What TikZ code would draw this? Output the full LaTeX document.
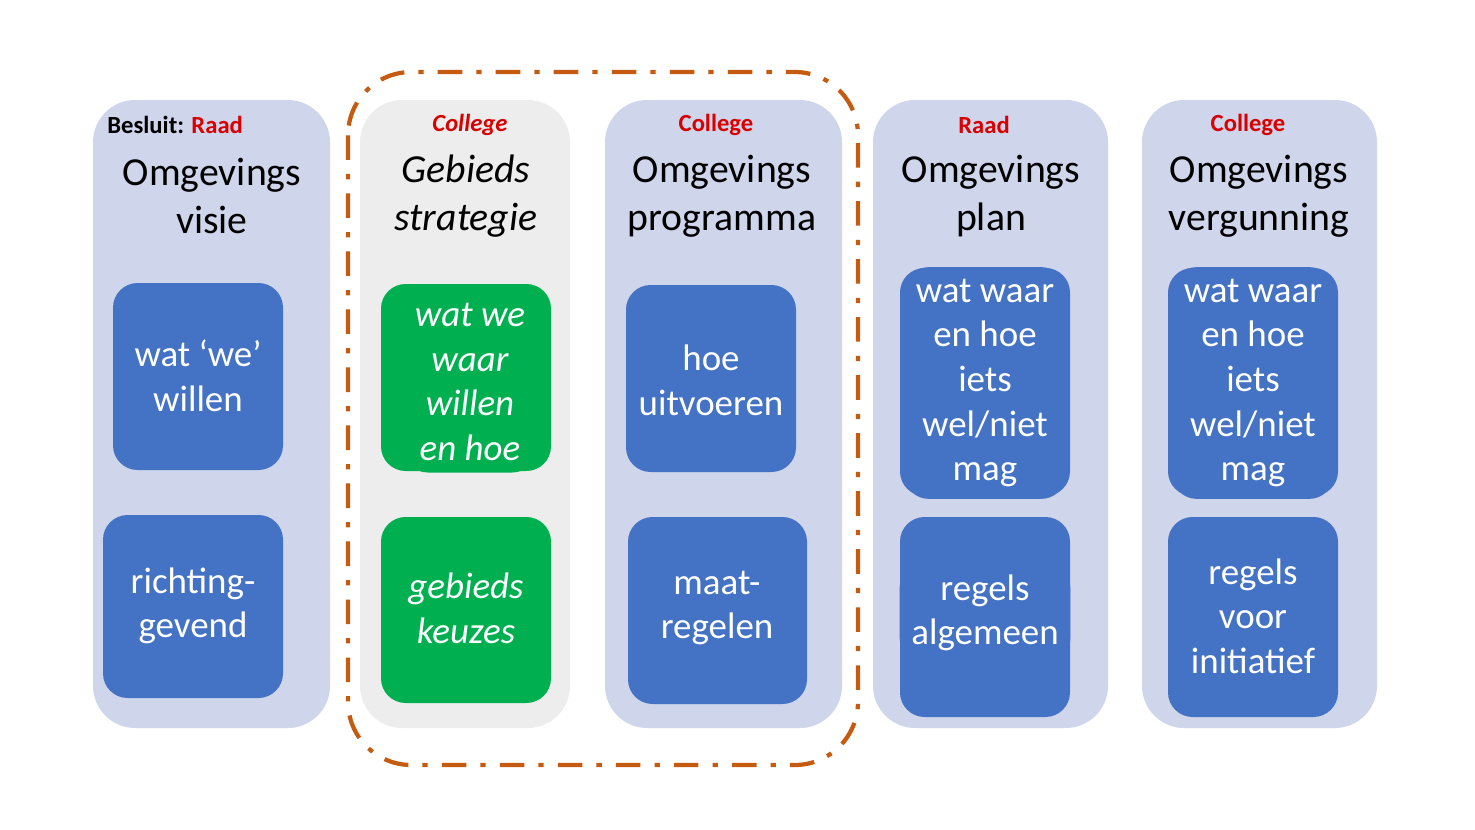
\documentclass[tikz,border=0pt]{standalone}
\usepackage{fontspec}
\setmainfont{Carlito}
\begin{document}
\begin{tikzpicture}[x=0.01cm,y=-0.01cm,
 col/.style={fill=lav,draw=none,rounded corners=12pt},
 blue/.style={fill=bl,draw=none,rounded corners=7pt,text=white,align=center,font=\fontsize{10.5}{12.7}\selectfont},
 green/.style={blue,fill=gr,font=\fontsize{10.5}{12.7}\selectfont\itshape},
 hdr/.style={text=red!85!black,font=\fontsize{7}{8}\selectfont\bfseries},
 ttl/.style={align=center,font=\fontsize{11.3}{13.6}\selectfont}]
\definecolor{lav}{HTML}{CFD5EA}\definecolor{gry}{HTML}{EDEDED}
\definecolor{bl}{HTML}{4472C4}\definecolor{gr}{HTML}{00B050}\definecolor{org}{HTML}{C55A11}
\useasboundingbox (0,0) rectangle (1475,830);
% columns
\fill[lav,rounded corners=12pt] (93,100) rectangle (330,728);
\fill[gry,rounded corners=12pt] (360,100) rectangle (570,728);
\fill[lav,rounded corners=12pt] (605,100) rectangle (842,728);
\fill[lav,rounded corners=12pt] (873,100) rectangle (1108,728);
\fill[lav,rounded corners=12pt] (1142,100) rectangle (1377,728);
% dashed group
\draw[org,line width=1.2pt,rounded corners=18pt,dash pattern=on 7pt off 4pt on 1.5pt off 4pt] (348,72) rectangle (858,765);
% headers
\node[anchor=west,font=\fontsize{7}{8}\selectfont\bfseries] (h1) at (95,125) {Besluit: \textcolor{red!85!black}{Raad}};
\node[hdr,font=\fontsize{7}{8}\selectfont\bfseries\itshape] (h2) at (470,125) {College};
\node[hdr] (h3) at (716,125) {College};
\node[hdr] (h4) at (984,125) {Raad};
\node[hdr] (h5) at (1248,125) {College};
% titles
\node[ttl] (t1) at (212,196) {Omgevings\\visie};
\node[ttl,font=\fontsize{11.3}{13.6}\selectfont\itshape] (t2) at (466,196) {Gebieds\\strategie};
\node[ttl] (t3) at (722,196) {Omgevings\\programma};
\node[ttl] (t4) at (991,196) {Omgevings\\plan};
\node[ttl] (t5) at (1259,196) {Omgevings\\vergunning};
% boxes
\fill[bl,rounded corners=7pt] (113,283) rectangle (283,470); \node[blue] (b1) at (198,376) {wat ‘we’\\willen};
\fill[bl,rounded corners=7pt] (103,515) rectangle (283,698); \node[blue] (b2) at (193,606) {richting-\\gevend};
\fill[gr,rounded corners=7pt] (381,284) rectangle (551,471); \node[green] (g1) at (470,382) {wat we\\waar\\willen\\en hoe};
\fill[gr,rounded corners=7pt] (381,517) rectangle (551,703); \node[green] (g2) at (466,608) {gebieds\\keuzes};
\fill[bl,rounded corners=7pt] (626,285) rectangle (796,472); \node[blue] (b3) at (711,380) {hoe\\uitvoeren};
\fill[bl,rounded corners=7pt] (628,517) rectangle (807,704); \node[blue] (b4) at (717,608) {maat-\\regelen};
\fill[bl,rounded corners=7pt] (900,268) rectangle (1070,496); \node[blue] (b5) at (985,383) {wat waar\\en hoe\\iets\\wel/niet\\mag};
\fill[bl,rounded corners=7pt] (900,517) rectangle (1070,717); \node[blue] (b6) at (985,613) {regels\\algemeen};
\fill[bl,rounded corners=7pt] (1168,268) rectangle (1338,496); \node[blue] (b7) at (1253,383) {wat waar\\en hoe\\iets\\wel/niet\\mag};
\fill[bl,rounded corners=7pt] (1168,517) rectangle (1338,717); \node[blue] (b8) at (1253,616) {regels\\voor\\initiatief};
\end{tikzpicture}
\end{document}
